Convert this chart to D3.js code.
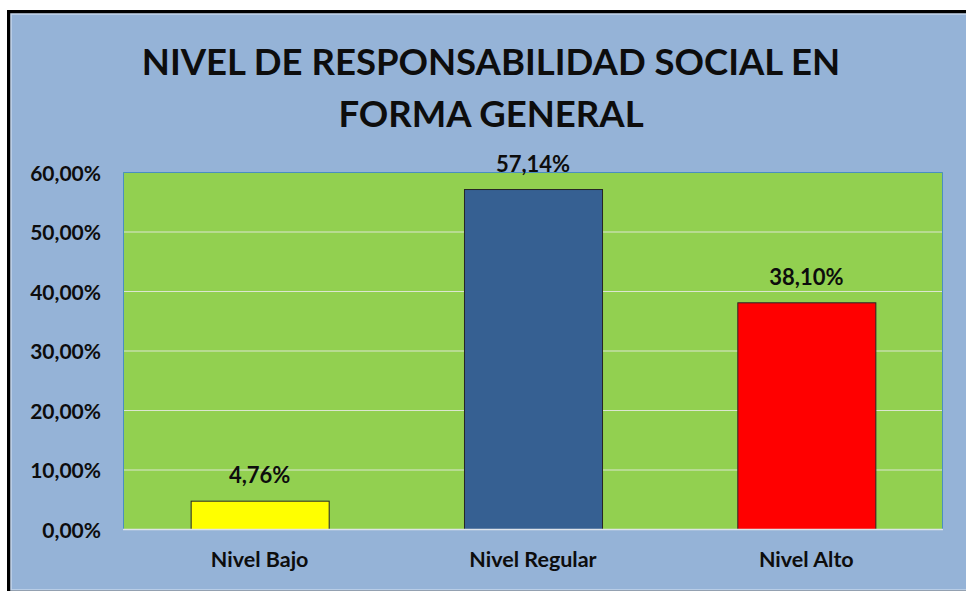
<!DOCTYPE html>
<html>
<head>
<meta charset="utf-8">
<script src="https://cdn.jsdelivr.net/npm/d3@7"></script>
<style>
	body { margin: 0; background: #fff; }
	svg { display: block; }
	text { font-family: Lato, "Liberation Sans", sans-serif; font-weight: bold; fill: #0d0d0d; }
</style>
</head>
<body>
<svg id="mainsvg" width="966" height="591"></svg>
<script>
// data
var titleLines = ['NIVEL DE RESPONSABILIDAD SOCIAL EN', 'FORMA GENERAL'];
var categories = ['Nivel Bajo', 'Nivel Regular', 'Nivel Alto'];
var values = [4.76, 57.14, 38.10];
var barColors = ['#FFFF00', '#366092', '#FF0000'];
var yTicks = [0, 10, 20, 30, 40, 50, 60];

var svg = d3.select('#mainsvg');
var plot = {left: 123, top: 172, right: 943, bottom: 529};

var loc = d3.formatLocale({decimal: ',', thousands: '.', grouping: [3], currency: ['', '']});
var fmt = loc.format('.2f');
var pct = function(v) { return fmt(v) + '%'; };

// frame
svg.append('rect').attr('x', 7).attr('y', 10).attr('width', 966).attr('height', 600).attr('fill', '#000');
svg.append('rect').attr('x', 11).attr('y', 14).attr('width', 966).attr('height', 576)
	.attr('fill', '#95B3D7').attr('stroke', '#C5D6EB').attr('stroke-width', 1.5);

var x = d3.scaleBand()
	.domain(categories)
	.range([plot.left, plot.right])
	.paddingInner(0.495)
	.paddingOuter(0.2475);

var y = d3.scaleLinear()
	.domain([0, 60])
	.range([plot.bottom, plot.top]);

// plot area
svg.append('rect')
	.attr('x', plot.left).attr('y', plot.top)
	.attr('width', plot.right - plot.left).attr('height', plot.bottom - plot.top)
	.attr('fill', '#92D050');

// gridlines
svg.append('g').selectAll('line')
	.data(yTicks.filter(function(d) { return d > 0 && d < 60; }))
	.enter().append('line')
	.attr('x1', plot.left).attr('x2', plot.right)
	.attr('y1', function(d) { return y(d) + 0.5; })
	.attr('y2', function(d) { return y(d) + 0.5; })
	.attr('stroke', '#DCE6D0').attr('stroke-width', 1.2);

// plot border (top, left, right in blue)
svg.append('path')
	.attr('d', 'M' + (plot.left + 0.5) + ',' + plot.bottom + 'V' + (plot.top + 0.5) + 'H' + (plot.right - 0.5) + 'V' + plot.bottom)
	.attr('fill', 'none').attr('stroke', '#4A8FC0').attr('stroke-width', 1);

// y axis labels
var yAxis = d3.axisLeft(y).tickValues(yTicks).tickFormat(pct).tickSize(0).tickPadding(22);
var ga = svg.append('g').attr('transform', 'translate(' + plot.left + ',0)').call(yAxis);
ga.select('.domain').remove();
ga.selectAll('text')
	.attr('font-family', null).attr('font-size', null)
	.style('font-size', '21px').attr('dy', '8px').attr('fill', '#0d0d0d');

// bars
svg.append('g').selectAll('rect')
	.data(values)
	.enter().append('rect')
	.attr('x', function(d, i) { return x(categories[i]) + 0.5; })
	.attr('y', function(d) { return y(d) + 0.5; })
	.attr('width', x.bandwidth())
	.attr('height', function(d) { return y(0) - y(d); })
	.attr('fill', function(d, i) { return barColors[i]; })
	.attr('stroke', '#262626').attr('stroke-width', 1);

// x axis line
svg.append('line')
	.attr('x1', plot.left).attr('x2', plot.right)
	.attr('y1', plot.bottom + 0.5).attr('y2', plot.bottom + 0.5)
	.attr('stroke', '#DDE3EA').attr('stroke-width', 1.5);

// value labels
svg.append('g').selectAll('text')
	.data(values)
	.enter().append('text')
	.attr('x', function(d, i) { return x(categories[i]) + x.bandwidth() / 2; })
	.attr('y', function(d) { return y(d) - 17.5; })
	.attr('text-anchor', 'middle')
	.style('font-size', '22px')
	.text(pct);

// category labels
svg.append('g').selectAll('text')
	.data(categories)
	.enter().append('text')
	.attr('x', function(d) { return x(d) + x.bandwidth() / 2; })
	.attr('y', 567)
	.attr('text-anchor', 'middle')
	.style('font-size', '21.5px')
	.text(function(d) { return d; });

// title
svg.append('g').selectAll('text')
	.data(titleLines)
	.enter().append('text')
	.attr('x', 491)
	.attr('y', function(d, i) { return 75 + i * 51.5; })
	.attr('text-anchor', 'middle')
	.style('font-size', '36.5px')
	.text(function(d) { return d; });
</script>
</body>
</html>
